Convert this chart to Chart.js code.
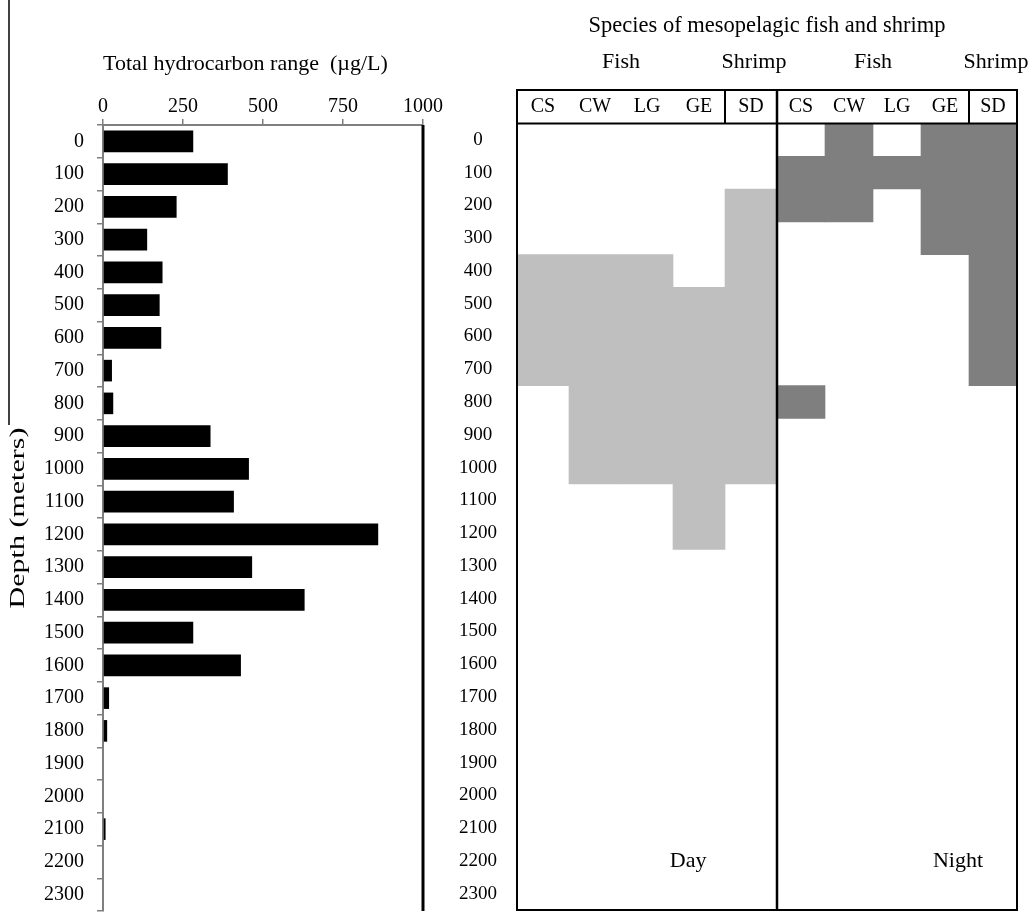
<!DOCTYPE html>
<html>
<head>
<meta charset="utf-8">
<title>Hydrocarbon range and mesopelagic species by depth</title>
<script src="https://cdn.jsdelivr.net/npm/chart.js@4/dist/chart.umd.min.js"></script>
<style>
    html, body { margin: 0; padding: 0; background: #fff; overflow: hidden; }
    .panel { position: absolute; top: 0; height: 912px; }
    #hc-panel { left: 0; width: 460px; }
    #species-panel { left: 440px; width: 592px; }
</style>
</head>
<body>
<div class="panel" id="species-panel"><canvas id="species-chart"></canvas></div>
<div class="panel" id="hc-panel"><canvas id="hc-chart"></canvas></div>

<script>
// Depth bins (m)
const depthLabels = ['0', '100', '200', '300', '400', '500', '600', '700', '800', '900', '1000', '1100',
    '1200', '1300', '1400', '1500', '1600', '1700', '1800', '1900', '2000', '2100', '2200', '2300'];

// Total hydrocarbon range (ug/L) per depth bin
const hydrocarbonValues = [282, 390, 230, 138, 186, 177, 182, 28, 32, 336, 456, 409,
    860, 466, 630, 282, 431, 19, 13, 0, 0, 8, 0, 0];

const hydrocarbonTicks = [0, 250, 500, 750, 1000];

// Species columns
const dayColumns = ['CS', 'CW', 'LG', 'GE', 'SD'];
const nightColumns = ['CS', 'CW', 'LG', 'GE', 'SD'];
const groupLabels = ['Fish', 'Shrimp'];
const periodLabels = ['Day', 'Night'];

// Shallowest and deepest occupied depth bin for each column
const dayRanges = [[400, 700], [400, 1000], [400, 1000], [500, 1200], [200, 1000]];
const nightRanges = [[100, 200], [0, 200], [100, 100], [0, 300], [0, 700]];
const nightRangesDeep = [[800, 800], null, null, null, null];

const BIN = 100;
const SERIF = "'Liberation Serif', 'Times New Roman', serif";

Chart.defaults.font.family = SERIF;
Chart.defaults.color = '#000';

// bin range -> floating bar span covering whole bins
function toSpan(range) {
    return range ? [range[0] - BIN / 2, range[1] + BIN / 2] : null;
}

function drawLine(ctx, x1, y1, x2, y2) {
    ctx.beginPath();
    ctx.moveTo(x1, y1);
    ctx.lineTo(x2, y2);
    ctx.stroke();
}

// keep first/last tick labels from shrinking the plot area
function noEdgePadding(s) {
    s.paddingTop = 0;
    s.paddingBottom = 0;
    s.paddingLeft = 0;
    s.paddingRight = 0;
}

// Right frame of the hydrocarbon panel, plus the stretched depth title
const hcFrame = {
    id: 'hcFrame',
    afterDraw(chart) {
        const { ctx, chartArea: a } = chart;
        ctx.save();
        ctx.strokeStyle = '#000';
        ctx.lineWidth = 3;
        drawLine(ctx, a.right, a.top, a.right, a.bottom);
        // leftover figure frame edge at top left
        ctx.lineWidth = 1.5;
        drawLine(ctx, 9, 0, 9, 425);

        // axis title, narrow type as in the original figure
        ctx.translate(19, (a.top + a.bottom) / 2);
        ctx.rotate(-Math.PI / 2);
        ctx.scale(1.5, 1);
        ctx.font = '20px ' + SERIF;
        ctx.fillStyle = '#000';
        ctx.textAlign = 'center';
        ctx.textBaseline = 'middle';
        ctx.fillText('Depth (meters)', 0, 0);
        ctx.restore();
    }
};

// Header box, dividers and Fish/Shrimp, Day/Night labels
const speciesFrame = {
    id: 'speciesFrame',
    afterDraw(chart) {
        const { ctx, chartArea: a, scales } = chart;
        const headerTop = scales.xDay.top;
        ctx.save();
        ctx.strokeStyle = '#000';
        ctx.lineWidth = 2;
        ctx.strokeRect(a.left, headerTop, a.right - a.left, a.bottom - headerTop);
        drawLine(ctx, a.left, a.top, a.right, a.top);

        ctx.lineWidth = 2.5;
        drawLine(ctx, scales.xNight.left, headerTop, scales.xNight.left, a.bottom);

        ctx.font = '22px ' + SERIF;
        ctx.fillStyle = '#000';
        ctx.textAlign = 'center';
        ctx.textBaseline = 'middle';
        ctx.lineWidth = 2;

        [scales.xDay, scales.xNight].forEach((s, i) => {
            const sep = (s.getPixelForValue(3) + s.getPixelForValue(4)) / 2;
            drawLine(ctx, sep, headerTop, sep, a.top);
            const fishX = (s.getPixelForValue(0) + s.getPixelForValue(3)) / 2;
            ctx.fillText(groupLabels[0], fishX, headerTop - 28);
            ctx.fillText(groupLabels[1], s.getPixelForValue(4) + 3, headerTop - 28);

            const frac = i === 0 ? 0.658 : 0.754;
            ctx.fillText(periodLabels[i], s.left + (s.right - s.left) * frac,
                scales.y.getPixelForValue(2200));
        });
        ctx.restore();
    }
};

new Chart(document.getElementById('hc-chart'), {
    type: 'bar',
    data: {
        labels: depthLabels,
        datasets: [{
            label: 'Total hydrocarbon range',
            data: hydrocarbonValues,
            backgroundColor: '#000',
            borderWidth: 0,
            barPercentage: 0.66,
            categoryPercentage: 1,
        }]
    },
    options: {
        indexAxis: 'y',
        responsive: true,
        maintainAspectRatio: false,
        animation: false,
        layout: { padding: { left: 0, right: 37, top: 0, bottom: 1 } },
        plugins: {
            legend: { display: false },
            tooltip: { enabled: false }
        },
        scales: {
            x: {
                type: 'linear',
                position: 'top',
                min: 0,
                max: 1000,
                afterBuildTicks: (s) => { s.ticks = hydrocarbonTicks.map(v => ({ value: v })); },
                ticks: { font: { size: 20 }, padding: 0, maxRotation: 0, callback: v => String(v) },
                grid: { drawOnChartArea: false, tickLength: 6, color: '#7f7f7f', lineWidth: 1.5 },
                border: { color: '#7f7f7f', width: 2 },
                title: {
                    display: true,
                    text: 'Total hydrocarbon range  (µg/L)',
                    align: 'start',
                    font: { size: 22 },
                    padding: { top: 51, bottom: 0 }
                },
                afterFit: (s) => { s.height = 125; noEdgePadding(s); }
            },
            y: {
                ticks: { font: { size: 20 }, padding: 13, autoSkip: false },
                grid: { drawOnChartArea: false, tickLength: 6, color: '#7f7f7f', lineWidth: 1.5 },
                border: { color: '#7f7f7f', width: 2 },
                afterFit: (s) => { s.width = 103; noEdgePadding(s); }
            }
        }
    },
    plugins: [hcFrame]
});

const headerAxis = (labels, weight, order) => ({
    type: 'category',
    labels: labels,
    position: 'top',
    stack: 'columns',
    stackWeight: weight,
    weight: order,
    offset: true,
    grid: { display: false, drawTicks: false },
    border: { display: false },
    ticks: { font: { size: 20 }, padding: 5, maxRotation: 0, autoSkip: false },
    afterFit: (s) => { s.height = 33.5; noEdgePadding(s); }
});

new Chart(document.getElementById('species-chart'), {
    type: 'bar',
    data: {
        datasets: [{
            label: 'Day',
            xAxisID: 'xDay',
            data: dayRanges.map(toSpan),
            backgroundColor: '#bfbfbf',
        }, {
            label: 'Night',
            xAxisID: 'xNight',
            data: nightRanges.map(toSpan),
            backgroundColor: '#7f7f7f',
        }, {
            label: 'Night (deep)',
            xAxisID: 'xNight',
            data: nightRangesDeep.map(toSpan),
            backgroundColor: '#7f7f7f',
        }]
    },
    options: {
        responsive: true,
        maintainAspectRatio: false,
        animation: false,
        layout: { padding: { left: 0, right: 15, top: 0, bottom: 2 } },
        datasets: {
            bar: { grouped: false, barPercentage: 1, categoryPercentage: 1, borderWidth: 0 }
        },
        plugins: {
            legend: { display: false },
            tooltip: { enabled: false },
            title: {
                display: true,
                text: 'Species of mesopelagic fish and shrimp',
                fullSize: false,
                color: '#000',
                font: { size: 22.5, weight: 'normal' },
                padding: { top: 13, bottom: 50 }
            }
        },
        scales: {
            xDay: headerAxis(dayColumns, 260, 2),
            xNight: headerAxis(nightColumns, 240, 1),
            y: {
                type: 'linear',
                reverse: true,
                min: -BIN / 2,
                max: 2300 + BIN / 2,
                afterBuildTicks: (s) => { s.ticks = depthLabels.map(v => ({ value: Number(v) })); },
                ticks: { font: { size: 19 }, crossAlign: 'center', padding: 20, callback: v => String(v) },
                grid: { display: false, drawTicks: false },
                border: { display: false },
                afterFit: (s) => { s.width = 77; noEdgePadding(s); }
            }
        }
    },
    plugins: [speciesFrame]
});
</script>
</body>
</html>
